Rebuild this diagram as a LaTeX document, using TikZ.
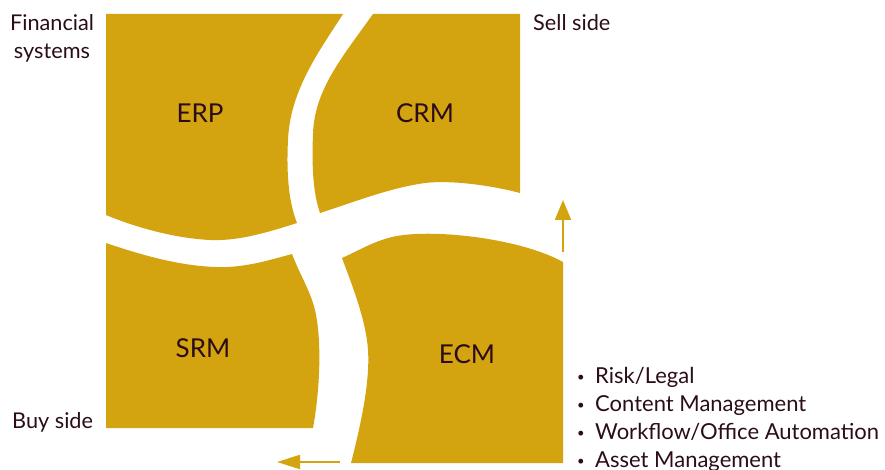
\documentclass[tikz,border=0pt]{standalone}
\usepackage{fontspec}
\setmainfont{Lato}
\usetikzlibrary{arrows.meta}
\definecolor{gold}{RGB}{212,163,16}
\definecolor{ink}{RGB}{42,13,24}
\newcommand{\smallbul}{\makebox[18pt][l]{\raisebox{1.5pt}{\fontsize{13}{13}\selectfont\textbullet}}}
\tikzset{
  block/.style={fill=gold, draw=none},
  blocklabel/.style={text=ink, font=\fontsize{26}{30}\selectfont, inner sep=0pt},
  sidelabel/.style={text=ink, font=\fontsize{21.7}{28}\selectfont, inner sep=0pt},
  listlabel/.style={text=ink, font=\fontsize{22}{28}\selectfont, inner sep=0pt, anchor=base west},
  flow/.style={draw=gold, line width=2pt, -{Triangle[width=16pt,length=20pt]}},
}
\begin{document}
\begin{tikzpicture}[x=1pt,y=-1pt]
\useasboundingbox (0,0) rectangle (885,470);
% ERP
\fill[block] (106,14) -- (343,14) .. controls (320,50) and (290,90) .. (288,140)
  .. controls (286,180) and (290,205) .. (297,223)
  .. controls (260,235) and (235,241) .. (210,240)
  .. controls (170,238) and (130,225) .. (106,215) -- cycle;
% CRM
\fill[block] (373,14) -- (520,14) -- (520,193)
  .. controls (490,185) and (450,180) .. (425,183)
  .. controls (390,188) and (360,200) .. (320,213)
  .. controls (312,190) and (312,160) .. (313,133)
  .. controls (315,90) and (340,60) .. (373,14) -- cycle;
% SRM
\fill[block] (106,243) .. controls (150,258) and (190,268) .. (227,267)
  .. controls (250,266) and (270,260) .. (292,254)
  .. controls (300,275) and (310,290) .. (315,310)
  .. controls (322,340) and (320,390) .. (313,428) -- (106,428) -- cycle;
% ECM
\fill[block] (342,258) .. controls (360,250) and (372,242) .. (392,237)
  .. controls (430,228) and (520,238) .. (563,262) -- (563,463) -- (351,463)
  .. controls (362,420) and (370,380) .. (368,350)
  .. controls (366,320) and (352,285) .. (342,258) -- cycle;

\node[blocklabel] (erp) at (200,113) {ERP};
\node[blocklabel] (crm) at (425,113) {CRM};
\node[blocklabel] (srm) at (203,348) {SRM};
\node[blocklabel] (ecm) at (467,354) {ECM};

\node[sidelabel, anchor=base] (fin1) at (52,31) {Financial};
\node[sidelabel, anchor=base] (fin2) at (52,59) {systems};
\node[sidelabel, anchor=base west] (sell) at (533,31) {Sell side};
\node[sidelabel, anchor=base west] (buy) at (12,428) {Buy side};

\node[listlabel] (risk) at (577,383) {\smallbul Risk/Legal};
\node[listlabel] (cont) at (577,411) {\smallbul Content Management};
\node[listlabel] (work) at (577,439) {\smallbul Workflow/Office Automation};
\node[listlabel] (asset) at (577,467) {\smallbul Asset Management};

\coordinate (upA) at (563,252);
\coordinate (upB) at (563,200);
\coordinate (lfA) at (340,462);
\coordinate (lfB) at (277,462);
\draw[flow] (upA) -- (upB);
\draw[flow, -{Triangle[width=14pt,length=23pt]}] (lfA) -- (lfB);
\end{tikzpicture}
\end{document}
